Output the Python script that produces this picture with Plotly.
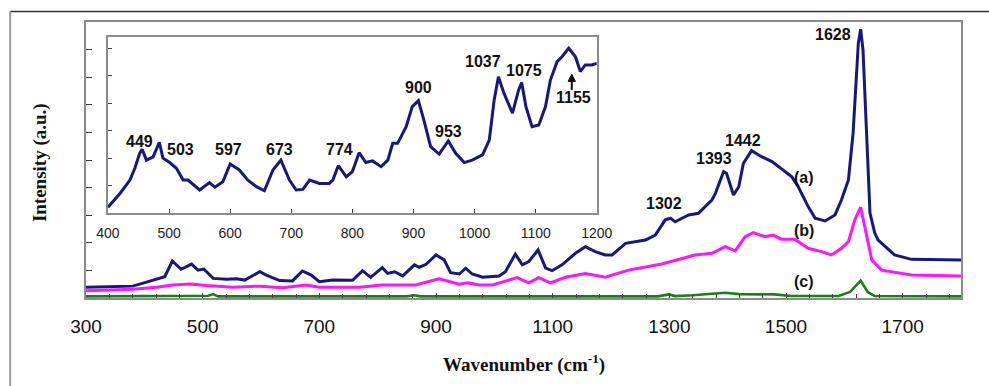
import plotly.graph_objects as go

# ---- Main spectra (wavenumber in cm^-1, intensity in arbitrary units) ----
wn_a = [300, 380, 398, 421, 435, 448, 463, 481, 492, 502, 518, 541, 558, 572, 598, 609,
        632, 654, 671, 686, 700, 723, 757, 774, 788, 808, 817, 829, 843, 863, 871, 883,
        900, 914, 925, 940, 951, 962, 980, 1008, 1019, 1036, 1048, 1059, 1075, 1088, 1099,
        1116, 1139, 1156, 1173, 1190, 1202, 1225, 1259, 1276, 1293, 1302, 1310, 1333, 1350,
        1367, 1373, 1379, 1393, 1398, 1410, 1419, 1427, 1441, 1458, 1476, 1487, 1510, 1521,
        1538, 1550, 1567, 1584, 1595, 1607, 1615, 1624, 1628, 1632, 1638, 1644, 1652, 1658,
        1686, 1715, 1800]
int_a = [0.39, 0.43, 0.54, 0.69, 0.77, 1.34, 1.04, 1.23, 1.01, 1.05, 0.71, 0.68, 0.70, 0.65, 0.95, 0.83,
         0.63, 0.62, 0.98, 0.83, 0.59, 0.65, 0.64, 0.99, 0.75, 1.10, 0.89, 0.95, 0.80, 1.20, 1.11, 1.22,
         1.56, 1.38, 0.92, 0.87, 1.08, 0.87, 0.75, 0.80, 0.95, 1.59, 1.20, 1.32, 1.74, 1.08, 0.99,
         1.20, 1.62, 1.86, 1.68, 1.56, 1.56, 1.98, 2.10, 2.28, 2.83, 2.89, 2.76, 3.01, 3.07,
         3.43, 3.55, 3.79, 4.58, 4.52, 3.73, 4.03, 4.88, 5.34, 5.12, 4.94, 4.76, 4.39, 4.03,
         3.31, 2.89, 2.79, 3.01, 3.55, 4.28, 5.97, 9.23, 9.74, 8.99, 5.98, 3.08, 2.36, 2.10,
         1.56, 1.40, 1.38]

wn_b = [300, 380, 421, 449, 478, 506, 552, 598, 637, 677, 700, 769, 808, 865, 905, 940, 954,
        974, 997, 1039, 1059, 1076, 1096, 1122, 1156, 1190, 1230, 1287, 1344, 1373, 1396, 1413,
        1430, 1444, 1464, 1478, 1492, 1515, 1538, 1561, 1578, 1595, 1607, 1618, 1628, 1638,
        1647, 1664, 1715, 1800]
int_b = [0.26, 0.32, 0.39, 0.47, 0.51, 0.45, 0.39, 0.43, 0.37, 0.47, 0.39, 0.39, 0.47, 0.47, 0.70, 0.50, 0.55,
         0.47, 0.47, 0.74, 0.55, 0.74, 0.55, 0.75, 0.89, 0.75, 1.01, 1.23, 1.56, 1.62, 1.86, 1.71,
         2.22, 2.37, 2.22, 2.28, 2.13, 2.13, 1.80, 1.68, 1.56, 1.80, 2.04, 2.83, 3.29, 2.34,
         1.38, 1.01, 0.83, 0.80]

wn_c = [300, 500, 510, 518, 526, 850, 862, 874, 1280, 1299, 1310, 1340, 1396, 1420, 1480,
        1509, 1590, 1610, 1628, 1640, 1652, 1800]
int_c = [0.06, 0.06, 0.08, 0.14, 0.06, 0.06, 0.10, 0.06, 0.06, 0.13, 0.07, 0.10, 0.19, 0.14, 0.13,
         0.07, 0.07, 0.22, 0.63, 0.22, 0.07, 0.06]

# ---- Inset: spectrum (a) over 400-1200 cm^-1, expanded ----
wn_in = [400, 420, 436, 444, 452, 456, 463, 474, 484, 490, 501, 512, 523, 531, 550, 566, 575,
         588, 600, 615, 629, 643, 656, 670, 683, 697, 708, 719, 730, 746, 762, 768, 777, 790,
         800, 811, 822, 833, 847, 858, 866, 874, 888, 898, 908, 917, 928, 942, 957, 969, 983,
         996, 1013, 1024, 1032, 1039, 1048, 1062, 1072, 1077, 1084, 1094, 1105, 1116, 1124,
         1135, 1143, 1154, 1165, 1173, 1181, 1192, 1200]
int_in = [0.21, 0.72, 1.20, 1.63, 2.18, 2.32, 1.93, 2.05, 2.58, 2.00, 1.84, 1.63, 1.20, 1.20, 0.84, 1.11, 0.94,
          1.14, 1.79, 1.57, 1.20, 0.96, 0.81, 1.57, 1.93, 1.20, 0.84, 0.86, 1.20, 1.08, 1.08, 1.20, 1.73, 1.32,
          1.51, 2.20, 1.84, 1.90, 1.69, 1.93, 2.54, 2.54, 3.15, 3.88, 4.10, 3.39, 2.42, 2.15, 2.63, 2.18, 1.84,
          1.93, 2.12, 2.66, 4.12, 4.97, 4.37, 3.64, 4.49, 4.76, 3.88, 3.15, 3.21, 3.88, 4.85,
          5.52, 5.70, 6.01, 5.70, 5.16, 5.40, 5.40, 5.46]

# Peak labels: (text, wavenumber position, intensity position)
main_labels = [("1302", 1290, 3.44), ("1393", 1376, 5.04), ("1442", 1427, 5.69),
               ("1628", 1581, 9.53), ("(a)", 1531, 4.35), ("(b)", 1531, 2.46), ("(c)", 1531, 0.58)]
inset_labels = [("449", 452, 2.61), ("503", 518, 2.30), ("597", 598, 2.30), ("673", 681, 2.30),
                ("774", 779, 2.30), ("900", 909, 4.56), ("953", 958, 2.96), ("1037", 1014, 5.51),
                ("1075", 1081, 5.18), ("1155", 1162, 4.23)]

main_ticks = [300, 500, 700, 900, 1100, 1300, 1500, 1700]
inset_ticks = [400, 500, 600, 700, 800, 900, 1000, 1100, 1200]

W, H = 989, 386
L, R, T, B = 86, 963, 22, 298          # main plot area in pixels


def px_x(p):
    return (p - L) / (R - L)


def px_y(p):
    return (B - p) / (B - T)


NAVY = "#17177d"
MAGENTA = "#ff14ff"
GREEN = "#1a7f1a"
FRAME = "#8c8c8c"
INK = "#111111"

fig = go.Figure()
fig.add_trace(go.Scatter(x=wn_c, y=int_c, mode="lines", line=dict(color=GREEN, width=2.6), showlegend=False))
fig.add_trace(go.Scatter(x=wn_b, y=int_b, mode="lines", line=dict(color=MAGENTA, width=3), showlegend=False))
fig.add_trace(go.Scatter(x=wn_a, y=int_a, mode="lines", line=dict(color=NAVY, width=3), showlegend=False))
fig.add_trace(go.Scatter(x=wn_in, y=int_in, mode="lines", line=dict(color=NAVY, width=3),
                         xaxis="x2", yaxis="y2", showlegend=False))

label_font = dict(family="Liberation Sans, Arial", size=16, color=INK)
annotations = []
for txt, xv, yv in main_labels:
    annotations.append(dict(x=xv, y=yv, xref="x", yref="y", text=f"<b>{txt}</b>", showarrow=False,
                            xanchor="center", yanchor="middle", font=label_font))
for txt, xv, yv in inset_labels:
    annotations.append(dict(x=xv, y=yv, xref="x2", yref="y2", text=f"<b>{txt}</b>", showarrow=False,
                            xanchor="center", yanchor="middle", font=label_font))
# axis titles
annotations.append(dict(x=px_x(525), y=px_y(363), xref="paper", yref="paper",
                        xanchor="center", yanchor="middle",
                        text="<b>Wavenumber (cm<sup>-1</sup>)</b>", showarrow=False,
                        font=dict(family="Liberation Serif, Times New Roman", size=19, color=INK)))
annotations.append(dict(x=px_x(40), y=px_y(163), xref="paper", yref="paper", textangle=-90,
                        xanchor="center", yanchor="middle",
                        text="<b>Intensity (a.u.)</b>", showarrow=False,
                        font=dict(family="Liberation Serif, Times New Roman", size=19, color=INK)))

shapes = [
    # outer chart frame
    dict(type="line", xref="paper", yref="paper", x0=px_x(10), x1=px_x(W + 10), y0=px_y(11.5), y1=px_y(11.5),
         line=dict(color="#333333", width=1.5)),
    dict(type="line", xref="paper", yref="paper", x0=px_x(10), x1=px_x(10), y0=px_y(11.5), y1=px_y(H + 10),
         line=dict(color="#999999", width=2)),
    # arrow marking the 1155 band: shaft and head
    dict(type="line", xref="x2", yref="y2", x0=1159, x1=1159, y0=4.49, y1=4.85,
         line=dict(color=INK, width=2)),
    dict(type="path", xref="x2", yref="y2", path="M 1153,4.80 L 1165,4.80 L 1159,5.06 Z",
         fillcolor=INK, line=dict(color=INK, width=1)),
]

fig.update_layout(
    width=W, height=H,
    margin=dict(l=L, r=W - R, t=T, b=H - B),
    paper_bgcolor="white", plot_bgcolor="white",
    xaxis=dict(range=[300, 1800], tickvals=main_ticks, ticks="inside", ticklen=5, tickcolor="#444",
               tickfont=dict(family="Liberation Sans, Arial", size=19, color=INK), ticklabelstandoff=10,
               showline=True, linecolor=FRAME, linewidth=1.5, mirror=True, showgrid=False, zeroline=False,
               minor=dict(tick0=300, dtick=40, ticks="inside", ticklen=4, tickcolor="#444")),
    yaxis=dict(range=[0, 10], dtick=1, ticks="inside", ticklen=6, tickcolor="#444", showticklabels=False,
               showline=True, linecolor=FRAME, linewidth=1.5, mirror=True, showgrid=False, zeroline=False),
    xaxis2=dict(domain=[px_x(108), px_x(598)], anchor="y2", range=[400, 1200], tickvals=inset_ticks,
                ticks="inside", ticklen=4, tickcolor="#444", ticklabelstandoff=6,
                tickfont=dict(family="Liberation Sans, Arial", size=14, color="#222"),
                showline=True, linecolor=FRAME, linewidth=1.5, mirror=True, showgrid=False, zeroline=False),
    yaxis2=dict(domain=[px_y(213), px_y(37)], anchor="x2", range=[0, 6.42], dtick=1, ticks="inside",
                ticklen=4, tickcolor="#444", showticklabels=False,
                showline=True, linecolor=FRAME, linewidth=1.5, mirror=True, showgrid=False, zeroline=False),
    annotations=annotations,
    shapes=shapes,
)

fig.write_html("out.html")
